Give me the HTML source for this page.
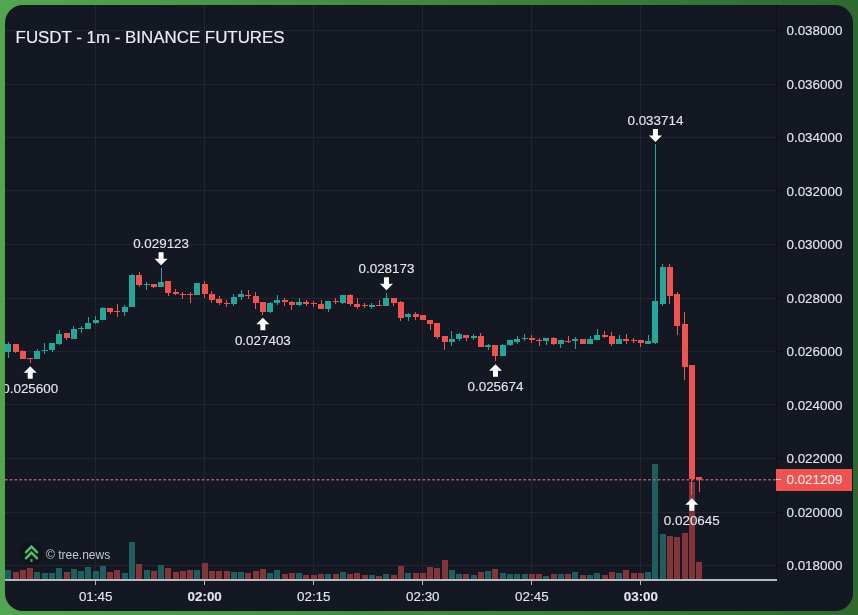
<!DOCTYPE html>
<html><head><meta charset="utf-8"><title>FUSDT chart</title>
<style>
html,body{margin:0;padding:0;width:858px;height:615px;overflow:hidden;}
body{background:linear-gradient(90deg,#52a650 0%,#2e6a2e 100%);position:relative;}
svg{position:absolute;left:0;top:0;display:block;will-change:transform;}
text{font-family:"Liberation Sans",sans-serif;}
.lb{font-size:13.4px;fill:#e4e6eb;stroke:#e4e6eb;stroke-width:0.12px;}
.ttl{font-size:16px;fill:#eceef2;stroke:#eceef2;stroke-width:0.15px;}
.wm{font-size:12px;fill:#c3c6ce;}
</style></head><body>
<svg width="858" height="615" viewBox="0 0 858 615">
<defs><clipPath id="card"><rect x="5" y="5" width="848" height="606" rx="18" ry="18"/></clipPath>
<clipPath id="plot"><rect x="5" y="5" width="771" height="574"/></clipPath></defs>
<rect x="5" y="5" width="848" height="606" rx="18" ry="18" fill="#141822"/>
<g clip-path="url(#card)">
<g clip-path="url(#plot)" shape-rendering="crispEdges">
<rect x="5" y="30" width="771" height="1" fill="#22252f"/>
<rect x="5" y="84" width="771" height="1" fill="#22252f"/>
<rect x="5" y="137" width="771" height="1" fill="#22252f"/>
<rect x="5" y="190" width="771" height="1" fill="#22252f"/>
<rect x="5" y="244" width="771" height="1" fill="#22252f"/>
<rect x="5" y="298" width="771" height="1" fill="#22252f"/>
<rect x="5" y="351" width="771" height="1" fill="#22252f"/>
<rect x="5" y="404" width="771" height="1" fill="#22252f"/>
<rect x="5" y="458" width="771" height="1" fill="#22252f"/>
<rect x="5" y="512" width="771" height="1" fill="#22252f"/>
<rect x="5" y="565" width="771" height="1" fill="#22252f"/>
<rect x="95" y="5" width="1" height="574" fill="#22252f"/>
<rect x="204" y="5" width="1" height="574" fill="#22252f"/>
<rect x="313" y="5" width="1" height="574" fill="#22252f"/>
<rect x="422" y="5" width="1" height="574" fill="#22252f"/>
<rect x="531" y="5" width="1" height="574" fill="#22252f"/>
<rect x="640" y="5" width="1" height="574" fill="#22252f"/>
<rect x="5" y="570" width="6" height="9" fill="#1e5e5c"/>
<rect x="13" y="572" width="6" height="7" fill="#82363a"/>
<rect x="20" y="570" width="6" height="9" fill="#82363a"/>
<rect x="27" y="568" width="6" height="11" fill="#82363a"/>
<rect x="34" y="572" width="6" height="7" fill="#1e5e5c"/>
<rect x="42" y="573" width="6" height="6" fill="#1e5e5c"/>
<rect x="49" y="573" width="6" height="6" fill="#1e5e5c"/>
<rect x="56" y="568" width="6" height="11" fill="#1e5e5c"/>
<rect x="64" y="572" width="6" height="7" fill="#82363a"/>
<rect x="71" y="569" width="6" height="10" fill="#1e5e5c"/>
<rect x="78" y="571" width="6" height="8" fill="#1e5e5c"/>
<rect x="85" y="567" width="6" height="12" fill="#1e5e5c"/>
<rect x="93" y="571" width="6" height="8" fill="#1e5e5c"/>
<rect x="100" y="566" width="6" height="13" fill="#1e5e5c"/>
<rect x="107" y="572" width="6" height="7" fill="#82363a"/>
<rect x="114" y="570" width="6" height="9" fill="#82363a"/>
<rect x="122" y="573" width="6" height="6" fill="#1e5e5c"/>
<rect x="129" y="542" width="6" height="37" fill="#1e5e5c"/>
<rect x="136" y="564" width="6" height="15" fill="#82363a"/>
<rect x="144" y="570" width="6" height="9" fill="#1e5e5c"/>
<rect x="151" y="571" width="6" height="8" fill="#82363a"/>
<rect x="158" y="565" width="6" height="14" fill="#1e5e5c"/>
<rect x="165" y="568" width="6" height="11" fill="#82363a"/>
<rect x="173" y="572" width="6" height="7" fill="#82363a"/>
<rect x="180" y="571" width="6" height="8" fill="#82363a"/>
<rect x="187" y="570" width="6" height="9" fill="#82363a"/>
<rect x="194" y="570" width="6" height="9" fill="#1e5e5c"/>
<rect x="202" y="563" width="6" height="16" fill="#82363a"/>
<rect x="209" y="571" width="6" height="8" fill="#82363a"/>
<rect x="216" y="571" width="6" height="8" fill="#82363a"/>
<rect x="224" y="571" width="6" height="8" fill="#82363a"/>
<rect x="231" y="572" width="6" height="7" fill="#1e5e5c"/>
<rect x="238" y="572" width="6" height="7" fill="#1e5e5c"/>
<rect x="245" y="573" width="6" height="6" fill="#82363a"/>
<rect x="253" y="571" width="6" height="8" fill="#82363a"/>
<rect x="260" y="569" width="6" height="10" fill="#82363a"/>
<rect x="267" y="573" width="6" height="6" fill="#1e5e5c"/>
<rect x="274" y="570" width="6" height="9" fill="#1e5e5c"/>
<rect x="282" y="574" width="6" height="5" fill="#82363a"/>
<rect x="289" y="573" width="6" height="6" fill="#82363a"/>
<rect x="296" y="573" width="6" height="6" fill="#1e5e5c"/>
<rect x="303" y="575" width="6" height="4" fill="#82363a"/>
<rect x="311" y="575" width="6" height="4" fill="#82363a"/>
<rect x="318" y="574" width="6" height="5" fill="#82363a"/>
<rect x="325" y="574" width="6" height="5" fill="#1e5e5c"/>
<rect x="333" y="574" width="6" height="5" fill="#82363a"/>
<rect x="340" y="572" width="6" height="7" fill="#1e5e5c"/>
<rect x="347" y="574" width="6" height="5" fill="#82363a"/>
<rect x="354" y="573" width="6" height="6" fill="#82363a"/>
<rect x="362" y="575" width="6" height="4" fill="#82363a"/>
<rect x="369" y="575" width="6" height="4" fill="#1e5e5c"/>
<rect x="376" y="576" width="6" height="3" fill="#82363a"/>
<rect x="383" y="574" width="6" height="5" fill="#1e5e5c"/>
<rect x="391" y="575" width="6" height="4" fill="#82363a"/>
<rect x="398" y="566" width="6" height="13" fill="#82363a"/>
<rect x="405" y="573" width="6" height="6" fill="#1e5e5c"/>
<rect x="413" y="573" width="6" height="6" fill="#82363a"/>
<rect x="420" y="573" width="6" height="6" fill="#82363a"/>
<rect x="427" y="567" width="6" height="12" fill="#82363a"/>
<rect x="434" y="568" width="6" height="11" fill="#82363a"/>
<rect x="442" y="560" width="6" height="19" fill="#82363a"/>
<rect x="449" y="570" width="6" height="9" fill="#1e5e5c"/>
<rect x="456" y="574" width="6" height="5" fill="#1e5e5c"/>
<rect x="463" y="574" width="6" height="5" fill="#82363a"/>
<rect x="471" y="575" width="6" height="4" fill="#1e5e5c"/>
<rect x="478" y="572" width="6" height="7" fill="#82363a"/>
<rect x="485" y="571" width="6" height="8" fill="#1e5e5c"/>
<rect x="492" y="569" width="6" height="10" fill="#82363a"/>
<rect x="500" y="573" width="6" height="6" fill="#1e5e5c"/>
<rect x="507" y="574" width="6" height="5" fill="#1e5e5c"/>
<rect x="514" y="574" width="6" height="5" fill="#1e5e5c"/>
<rect x="522" y="574" width="6" height="5" fill="#1e5e5c"/>
<rect x="529" y="574" width="6" height="5" fill="#82363a"/>
<rect x="536" y="574" width="6" height="5" fill="#82363a"/>
<rect x="543" y="576" width="6" height="3" fill="#1e5e5c"/>
<rect x="551" y="574" width="6" height="5" fill="#82363a"/>
<rect x="558" y="574" width="6" height="5" fill="#1e5e5c"/>
<rect x="565" y="574" width="6" height="5" fill="#82363a"/>
<rect x="572" y="572" width="6" height="7" fill="#1e5e5c"/>
<rect x="580" y="575" width="6" height="4" fill="#82363a"/>
<rect x="587" y="575" width="6" height="4" fill="#1e5e5c"/>
<rect x="594" y="573" width="6" height="6" fill="#1e5e5c"/>
<rect x="602" y="575" width="6" height="4" fill="#82363a"/>
<rect x="609" y="572" width="6" height="7" fill="#82363a"/>
<rect x="616" y="573" width="6" height="6" fill="#1e5e5c"/>
<rect x="623" y="570" width="6" height="9" fill="#82363a"/>
<rect x="631" y="573" width="6" height="6" fill="#82363a"/>
<rect x="638" y="573" width="6" height="6" fill="#82363a"/>
<rect x="645" y="572" width="6" height="7" fill="#1e5e5c"/>
<rect x="652" y="464" width="6" height="115" fill="#1e5e5c"/>
<rect x="660" y="534" width="6" height="45" fill="#1e5e5c"/>
<rect x="667" y="536" width="6" height="43" fill="#82363a"/>
<rect x="674" y="537" width="6" height="42" fill="#82363a"/>
<rect x="682" y="533" width="6" height="46" fill="#82363a"/>
<rect x="689" y="482" width="6" height="97" fill="#82363a"/>
<rect x="696" y="562" width="6" height="17" fill="#82363a"/>
<rect x="8" y="342" width="1" height="16" fill="#26a69a"/>
<rect x="5" y="344" width="6" height="8" fill="#26a69a"/>
<rect x="15" y="344" width="1" height="9" fill="#ef5350"/>
<rect x="13" y="344" width="6" height="8" fill="#ef5350"/>
<rect x="22" y="350" width="1" height="9" fill="#ef5350"/>
<rect x="20" y="351" width="6" height="8" fill="#ef5350"/>
<rect x="30" y="358" width="1" height="5" fill="#ef5350"/>
<rect x="27" y="358" width="6" height="1" fill="#ef5350"/>
<rect x="37" y="349" width="1" height="10" fill="#26a69a"/>
<rect x="34" y="351" width="6" height="8" fill="#26a69a"/>
<rect x="44" y="343" width="1" height="11" fill="#26a69a"/>
<rect x="42" y="350" width="6" height="1" fill="#26a69a"/>
<rect x="52" y="343" width="1" height="9" fill="#26a69a"/>
<rect x="49" y="343" width="6" height="7" fill="#26a69a"/>
<rect x="59" y="330" width="1" height="15" fill="#26a69a"/>
<rect x="56" y="334" width="6" height="10" fill="#26a69a"/>
<rect x="66" y="333" width="1" height="7" fill="#ef5350"/>
<rect x="64" y="333" width="6" height="5" fill="#ef5350"/>
<rect x="73" y="326" width="1" height="13" fill="#26a69a"/>
<rect x="71" y="329" width="6" height="10" fill="#26a69a"/>
<rect x="81" y="326" width="1" height="7" fill="#26a69a"/>
<rect x="78" y="328" width="6" height="1" fill="#26a69a"/>
<rect x="88" y="317" width="1" height="12" fill="#26a69a"/>
<rect x="85" y="323" width="6" height="6" fill="#26a69a"/>
<rect x="95" y="316" width="1" height="8" fill="#26a69a"/>
<rect x="93" y="320" width="6" height="3" fill="#26a69a"/>
<rect x="102" y="307" width="1" height="13" fill="#26a69a"/>
<rect x="100" y="308" width="6" height="12" fill="#26a69a"/>
<rect x="110" y="308" width="1" height="6" fill="#ef5350"/>
<rect x="107" y="308" width="6" height="4" fill="#ef5350"/>
<rect x="117" y="304" width="1" height="13" fill="#ef5350"/>
<rect x="114" y="311" width="6" height="1" fill="#ef5350"/>
<rect x="124" y="305" width="1" height="11" fill="#26a69a"/>
<rect x="122" y="307" width="6" height="5" fill="#26a69a"/>
<rect x="132" y="274" width="1" height="33" fill="#26a69a"/>
<rect x="129" y="275" width="6" height="32" fill="#26a69a"/>
<rect x="139" y="272" width="1" height="15" fill="#ef5350"/>
<rect x="136" y="275" width="6" height="10" fill="#ef5350"/>
<rect x="146" y="282" width="1" height="8" fill="#26a69a"/>
<rect x="144" y="284" width="6" height="1" fill="#26a69a"/>
<rect x="153" y="284" width="1" height="4" fill="#ef5350"/>
<rect x="151" y="284" width="6" height="3" fill="#ef5350"/>
<rect x="161" y="268" width="1" height="19" fill="#26a69a"/>
<rect x="158" y="282" width="6" height="5" fill="#26a69a"/>
<rect x="168" y="281" width="1" height="15" fill="#ef5350"/>
<rect x="165" y="281" width="6" height="12" fill="#ef5350"/>
<rect x="175" y="289" width="1" height="6" fill="#ef5350"/>
<rect x="173" y="292" width="6" height="2" fill="#ef5350"/>
<rect x="182" y="292" width="1" height="7" fill="#ef5350"/>
<rect x="180" y="294" width="6" height="1" fill="#ef5350"/>
<rect x="190" y="292" width="1" height="11" fill="#ef5350"/>
<rect x="187" y="294" width="6" height="1" fill="#ef5350"/>
<rect x="197" y="283" width="1" height="12" fill="#26a69a"/>
<rect x="194" y="283" width="6" height="12" fill="#26a69a"/>
<rect x="204" y="281" width="1" height="17" fill="#ef5350"/>
<rect x="202" y="284" width="6" height="10" fill="#ef5350"/>
<rect x="211" y="291" width="1" height="12" fill="#ef5350"/>
<rect x="209" y="294" width="6" height="6" fill="#ef5350"/>
<rect x="219" y="296" width="1" height="9" fill="#ef5350"/>
<rect x="216" y="299" width="6" height="4" fill="#ef5350"/>
<rect x="226" y="300" width="1" height="7" fill="#ef5350"/>
<rect x="224" y="303" width="6" height="1" fill="#ef5350"/>
<rect x="233" y="294" width="1" height="12" fill="#26a69a"/>
<rect x="231" y="297" width="6" height="7" fill="#26a69a"/>
<rect x="241" y="290" width="1" height="10" fill="#26a69a"/>
<rect x="238" y="294" width="6" height="3" fill="#26a69a"/>
<rect x="248" y="290" width="1" height="9" fill="#ef5350"/>
<rect x="245" y="295" width="6" height="1" fill="#ef5350"/>
<rect x="255" y="292" width="1" height="17" fill="#ef5350"/>
<rect x="253" y="296" width="6" height="7" fill="#ef5350"/>
<rect x="262" y="302" width="1" height="13" fill="#ef5350"/>
<rect x="260" y="302" width="6" height="10" fill="#ef5350"/>
<rect x="270" y="302" width="1" height="11" fill="#26a69a"/>
<rect x="267" y="303" width="6" height="9" fill="#26a69a"/>
<rect x="277" y="295" width="1" height="10" fill="#26a69a"/>
<rect x="274" y="300" width="6" height="3" fill="#26a69a"/>
<rect x="284" y="298" width="1" height="8" fill="#ef5350"/>
<rect x="282" y="300" width="6" height="2" fill="#ef5350"/>
<rect x="291" y="301" width="1" height="9" fill="#ef5350"/>
<rect x="289" y="302" width="6" height="3" fill="#ef5350"/>
<rect x="299" y="298" width="1" height="8" fill="#26a69a"/>
<rect x="296" y="302" width="6" height="3" fill="#26a69a"/>
<rect x="306" y="300" width="1" height="6" fill="#ef5350"/>
<rect x="303" y="302" width="6" height="2" fill="#ef5350"/>
<rect x="313" y="301" width="1" height="6" fill="#ef5350"/>
<rect x="311" y="303" width="6" height="1" fill="#ef5350"/>
<rect x="321" y="300" width="1" height="9" fill="#ef5350"/>
<rect x="318" y="304" width="6" height="5" fill="#ef5350"/>
<rect x="328" y="301" width="1" height="11" fill="#26a69a"/>
<rect x="325" y="301" width="6" height="8" fill="#26a69a"/>
<rect x="335" y="298" width="1" height="6" fill="#ef5350"/>
<rect x="333" y="301" width="6" height="1" fill="#ef5350"/>
<rect x="342" y="295" width="1" height="9" fill="#26a69a"/>
<rect x="340" y="295" width="6" height="8" fill="#26a69a"/>
<rect x="350" y="294" width="1" height="12" fill="#ef5350"/>
<rect x="347" y="295" width="6" height="9" fill="#ef5350"/>
<rect x="357" y="298" width="1" height="11" fill="#ef5350"/>
<rect x="354" y="304" width="6" height="3" fill="#ef5350"/>
<rect x="364" y="303" width="1" height="5" fill="#ef5350"/>
<rect x="362" y="305" width="6" height="1" fill="#ef5350"/>
<rect x="371" y="303" width="1" height="6" fill="#26a69a"/>
<rect x="369" y="305" width="6" height="2" fill="#26a69a"/>
<rect x="379" y="300" width="1" height="6" fill="#ef5350"/>
<rect x="376" y="305" width="6" height="1" fill="#ef5350"/>
<rect x="386" y="293" width="1" height="13" fill="#26a69a"/>
<rect x="383" y="298" width="6" height="8" fill="#26a69a"/>
<rect x="393" y="298" width="1" height="8" fill="#ef5350"/>
<rect x="391" y="298" width="6" height="5" fill="#ef5350"/>
<rect x="400" y="301" width="1" height="20" fill="#ef5350"/>
<rect x="398" y="302" width="6" height="16" fill="#ef5350"/>
<rect x="408" y="313" width="1" height="8" fill="#26a69a"/>
<rect x="405" y="314" width="6" height="3" fill="#26a69a"/>
<rect x="415" y="312" width="1" height="8" fill="#ef5350"/>
<rect x="413" y="314" width="6" height="3" fill="#ef5350"/>
<rect x="422" y="315" width="1" height="5" fill="#ef5350"/>
<rect x="420" y="315" width="6" height="5" fill="#ef5350"/>
<rect x="430" y="320" width="1" height="10" fill="#ef5350"/>
<rect x="427" y="320" width="6" height="4" fill="#ef5350"/>
<rect x="437" y="323" width="1" height="16" fill="#ef5350"/>
<rect x="434" y="323" width="6" height="14" fill="#ef5350"/>
<rect x="444" y="336" width="1" height="14" fill="#ef5350"/>
<rect x="442" y="336" width="6" height="6" fill="#ef5350"/>
<rect x="451" y="331" width="1" height="15" fill="#26a69a"/>
<rect x="449" y="339" width="6" height="3" fill="#26a69a"/>
<rect x="459" y="333" width="1" height="8" fill="#26a69a"/>
<rect x="456" y="334" width="6" height="5" fill="#26a69a"/>
<rect x="466" y="335" width="1" height="6" fill="#ef5350"/>
<rect x="463" y="335" width="6" height="3" fill="#ef5350"/>
<rect x="473" y="334" width="1" height="6" fill="#26a69a"/>
<rect x="471" y="336" width="6" height="2" fill="#26a69a"/>
<rect x="480" y="333" width="1" height="14" fill="#ef5350"/>
<rect x="478" y="336" width="6" height="11" fill="#ef5350"/>
<rect x="488" y="344" width="1" height="6" fill="#26a69a"/>
<rect x="485" y="345" width="6" height="2" fill="#26a69a"/>
<rect x="495" y="345" width="1" height="16" fill="#ef5350"/>
<rect x="492" y="345" width="6" height="11" fill="#ef5350"/>
<rect x="502" y="344" width="1" height="12" fill="#26a69a"/>
<rect x="500" y="345" width="6" height="11" fill="#26a69a"/>
<rect x="510" y="340" width="1" height="6" fill="#26a69a"/>
<rect x="507" y="340" width="6" height="5" fill="#26a69a"/>
<rect x="517" y="336" width="1" height="8" fill="#26a69a"/>
<rect x="514" y="339" width="6" height="3" fill="#26a69a"/>
<rect x="524" y="334" width="1" height="7" fill="#26a69a"/>
<rect x="522" y="338" width="6" height="1" fill="#26a69a"/>
<rect x="531" y="335" width="1" height="8" fill="#ef5350"/>
<rect x="529" y="338" width="6" height="2" fill="#ef5350"/>
<rect x="539" y="338" width="1" height="8" fill="#ef5350"/>
<rect x="536" y="340" width="6" height="1" fill="#ef5350"/>
<rect x="546" y="338" width="1" height="7" fill="#26a69a"/>
<rect x="543" y="338" width="6" height="3" fill="#26a69a"/>
<rect x="553" y="337" width="1" height="8" fill="#ef5350"/>
<rect x="551" y="338" width="6" height="6" fill="#ef5350"/>
<rect x="560" y="340" width="1" height="8" fill="#26a69a"/>
<rect x="558" y="340" width="6" height="4" fill="#26a69a"/>
<rect x="568" y="336" width="1" height="7" fill="#ef5350"/>
<rect x="565" y="341" width="6" height="1" fill="#ef5350"/>
<rect x="575" y="337" width="1" height="12" fill="#26a69a"/>
<rect x="572" y="339" width="6" height="2" fill="#26a69a"/>
<rect x="582" y="339" width="1" height="5" fill="#ef5350"/>
<rect x="580" y="339" width="6" height="5" fill="#ef5350"/>
<rect x="590" y="336" width="1" height="8" fill="#26a69a"/>
<rect x="587" y="339" width="6" height="5" fill="#26a69a"/>
<rect x="597" y="329" width="1" height="11" fill="#26a69a"/>
<rect x="594" y="335" width="6" height="5" fill="#26a69a"/>
<rect x="604" y="331" width="1" height="7" fill="#ef5350"/>
<rect x="602" y="335" width="6" height="2" fill="#ef5350"/>
<rect x="611" y="332" width="1" height="14" fill="#ef5350"/>
<rect x="609" y="336" width="6" height="8" fill="#ef5350"/>
<rect x="619" y="335" width="1" height="9" fill="#26a69a"/>
<rect x="616" y="339" width="6" height="5" fill="#26a69a"/>
<rect x="626" y="334" width="1" height="10" fill="#ef5350"/>
<rect x="623" y="339" width="6" height="2" fill="#ef5350"/>
<rect x="633" y="338" width="1" height="5" fill="#ef5350"/>
<rect x="631" y="340" width="6" height="1" fill="#ef5350"/>
<rect x="640" y="340" width="1" height="7" fill="#ef5350"/>
<rect x="638" y="340" width="6" height="3" fill="#ef5350"/>
<rect x="648" y="335" width="1" height="9" fill="#26a69a"/>
<rect x="645" y="341" width="6" height="3" fill="#26a69a"/>
<rect x="655" y="144" width="1" height="200" fill="#26a69a"/>
<rect x="652" y="301" width="6" height="42" fill="#26a69a"/>
<rect x="662" y="264" width="1" height="42" fill="#26a69a"/>
<rect x="660" y="267" width="6" height="37" fill="#26a69a"/>
<rect x="669" y="264" width="1" height="40" fill="#ef5350"/>
<rect x="667" y="267" width="6" height="29" fill="#ef5350"/>
<rect x="677" y="292" width="1" height="43" fill="#ef5350"/>
<rect x="674" y="294" width="6" height="32" fill="#ef5350"/>
<rect x="684" y="312" width="1" height="68" fill="#ef5350"/>
<rect x="682" y="324" width="6" height="43" fill="#ef5350"/>
<rect x="691" y="365" width="1" height="130" fill="#ef5350"/>
<rect x="689" y="365" width="6" height="114" fill="#ef5350"/>
<rect x="699" y="477" width="1" height="15" fill="#ef5350"/>
<rect x="696" y="477" width="6" height="3" fill="#ef5350"/>
<line x1="5" y1="479.8" x2="776" y2="479.8" stroke="#b05a68" stroke-width="1.4" stroke-dasharray="2.6 2.2" shape-rendering="auto"/>
</g>
<text x="15.6" y="42.7" class="ttl" textLength="269" lengthAdjust="spacingAndGlyphs">FUSDT - 1m - BINANCE FUTURES</text>
<circle cx="31.5" cy="553" r="12" fill="#10131b" opacity="0.8"/>
<path d="M26 552.2 L31.5 546.6 L37 552.2" fill="none" stroke="#46a94a" stroke-width="2.7" stroke-linecap="round"/>
<path d="M26 558.2 L31.5 552.6 L37 558.2" fill="none" stroke="#46a94a" stroke-width="2.7" stroke-linecap="round"/>
<path d="M26 552.2 L31.5 546.6 L37 552.2" fill="none" stroke="#66c9c0" stroke-width="1" stroke-linecap="round"/>
<path d="M26 558.2 L31.5 552.6 L37 558.2" fill="none" stroke="#66c9c0" stroke-width="1" stroke-linecap="round"/>
<rect x="30.5" y="559" width="2" height="3" fill="#4caf50"/>
<text x="46" y="558.5" class="wm">© tree.news</text>
<g clip-path="url(#plot)">
<path d="M27.72 378.7H32.72V372.7H36.72L30.22 366.2L23.72 372.7H27.72Z" fill="#fff"/>
<text x="30.22" y="393.4" text-anchor="middle" class="lb">0.025600</text>
<path d="M158.58 252.3H163.58V258.8H167.58L161.08 265.3L154.58 258.8H158.58Z" fill="#fff"/>
<text x="161.08" y="248" text-anchor="middle" class="lb">0.029123</text>
<path d="M260.36 330.3H265.36V324.3H269.36L262.86 317.8L256.36 324.3H260.36Z" fill="#fff"/>
<text x="262.86" y="345" text-anchor="middle" class="lb">0.027403</text>
<path d="M383.95 277.3H388.95V283.8H392.95L386.45 290.3L379.95 283.8H383.95Z" fill="#fff"/>
<text x="386.45" y="273" text-anchor="middle" class="lb">0.028173</text>
<path d="M493 376.7H498V370.7H502L495.5 364.2L489 370.7H493Z" fill="#fff"/>
<text x="495.5" y="391.4" text-anchor="middle" class="lb">0.025674</text>
<path d="M652.94 129H657.94V135.5H661.94L655.44 142L648.94 135.5H652.94Z" fill="#fff"/>
<text x="655.44" y="124.7" text-anchor="middle" class="lb">0.033714</text>
<path d="M689.29 510.7H694.29V504.7H698.29L691.79 498.2L685.29 504.7H689.29Z" fill="#fff"/>
<text x="691.79" y="525.4" text-anchor="middle" class="lb">0.020645</text>
</g>
<g shape-rendering="crispEdges">
<rect x="776" y="5" width="1" height="574" fill="#0d0f14"/>
<rect x="777" y="30" width="6" height="1" fill="#0d0f14"/>
<text x="786.5" y="35.1" class="lb">0.038000</text>
<rect x="777" y="84" width="6" height="1" fill="#0d0f14"/>
<text x="786.5" y="88.6" class="lb">0.036000</text>
<rect x="777" y="137" width="6" height="1" fill="#0d0f14"/>
<text x="786.5" y="142.1" class="lb">0.034000</text>
<rect x="777" y="190" width="6" height="1" fill="#0d0f14"/>
<text x="786.5" y="195.6" class="lb">0.032000</text>
<rect x="777" y="244" width="6" height="1" fill="#0d0f14"/>
<text x="786.5" y="249.1" class="lb">0.030000</text>
<rect x="777" y="298" width="6" height="1" fill="#0d0f14"/>
<text x="786.5" y="302.6" class="lb">0.028000</text>
<rect x="777" y="351" width="6" height="1" fill="#0d0f14"/>
<text x="786.5" y="356.1" class="lb">0.026000</text>
<rect x="777" y="404" width="6" height="1" fill="#0d0f14"/>
<text x="786.5" y="409.6" class="lb">0.024000</text>
<rect x="777" y="458" width="6" height="1" fill="#0d0f14"/>
<text x="786.5" y="463.1" class="lb">0.022000</text>
<rect x="777" y="512" width="6" height="1" fill="#0d0f14"/>
<text x="786.5" y="516.6" class="lb">0.020000</text>
<rect x="777" y="565" width="6" height="1" fill="#0d0f14"/>
<text x="786.5" y="570.1" class="lb">0.018000</text>
<rect x="5" y="579" width="772" height="2" fill="#b6b9c2"/>
<rect x="95" y="581" width="1" height="4" fill="#b6b9c2"/>
<text x="95.65" y="601" text-anchor="middle" class="lb">01:45</text>
<rect x="204" y="581" width="1" height="4" fill="#b6b9c2"/>
<text x="204.7" y="601" text-anchor="middle" class="lb" font-weight="bold">02:00</text>
<rect x="313" y="581" width="1" height="4" fill="#b6b9c2"/>
<text x="313.75" y="601" text-anchor="middle" class="lb">02:15</text>
<rect x="422" y="581" width="1" height="4" fill="#b6b9c2"/>
<text x="422.8" y="601" text-anchor="middle" class="lb">02:30</text>
<rect x="531" y="581" width="1" height="4" fill="#b6b9c2"/>
<text x="531.85" y="601" text-anchor="middle" class="lb">02:45</text>
<rect x="640" y="581" width="1" height="4" fill="#b6b9c2"/>
<text x="640.9" y="601" text-anchor="middle" class="lb" font-weight="bold">03:00</text>
<rect x="776" y="469" width="76" height="22" fill="#ef5350"/>
<rect x="776" y="479" width="5" height="1" fill="#fde"/>
<text x="786.5" y="484.4" class="lb" style="fill:#ffe6e6">0.021209</text>
</g>
</g>
</svg>
</body></html>
